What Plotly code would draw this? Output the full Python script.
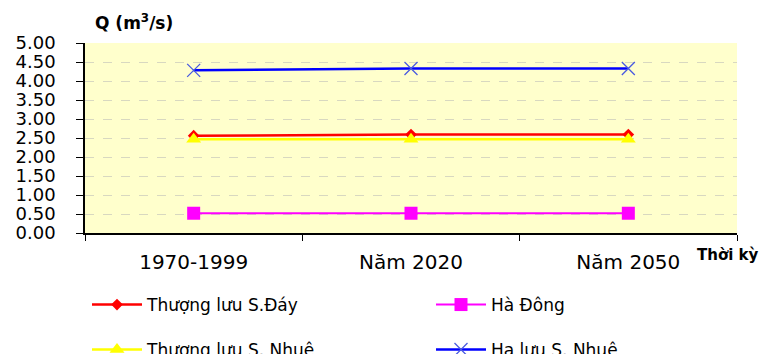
import plotly.graph_objects as go

periods = ["1970-1999", "Năm 2020", "Năm 2050"]
thuong_luu_day = [2.56, 2.59, 2.59]
ha_dong = [0.52, 0.52, 0.52]
thuong_luu_nhue = [2.47, 2.47, 2.47]
ha_luu_nhue = [4.28, 4.33, 4.33]
y_ticks = [0, 0.5, 1, 1.5, 2, 2.5, 3, 3.5, 4, 4.5, 5]

FONT = "DejaVu Sans, Verdana, sans-serif"

fig = go.Figure()
fig.add_trace(go.Scatter(
    x=periods, y=thuong_luu_day, name="Thượng lưu S.Đáy", mode="lines+markers",
    line=dict(color="#FF0000", width=2.5),
    marker=dict(symbol="diamond", size=9, color="#FF0000"), legend="legend"))
fig.add_trace(go.Scatter(
    x=periods, y=ha_dong, name="Hà Đông", mode="lines+markers",
    line=dict(color="#FF00FF", width=2),
    marker=dict(symbol="square", size=13, color="#FF00FF"), legend="legend2"))
fig.add_trace(go.Scatter(
    x=periods, y=thuong_luu_nhue, name="Thượng lưu S. Nhuê", mode="lines+markers",
    line=dict(color="#FFFF00", width=2.5),
    marker=dict(symbol="triangle-up", size=13, color="#FFFF00"), legend="legend3"))
fig.add_trace(go.Scatter(
    x=periods, y=ha_luu_nhue, name="Hạ lưu S. Nhuê", mode="lines+markers",
    line=dict(color="#0000FF", width=2.5),
    marker=dict(symbol="x-thin-open", size=13, color="#4A5BE0",
                line=dict(width=1.3, color="#4A5BE0")), legend="legend4"))
fig.update_traces(showlegend=True)

legend_common = dict(
    orientation="h", xanchor="left", yanchor="middle",
    xref="container", yref="container",
    font=dict(family=FONT, size=17, color="#000000"),
    bgcolor="rgba(0,0,0,0)", itemwidth=50,
)

W, H = 777, 354
col_x = [87 / W, 431 / W]
row_y = [1 - 305 / H, 1 - 350 / H]

fig.update_layout(
    width=W, height=H,
    showlegend=True,
    margin=dict(l=85, r=40, t=43, b=121, autoexpand=False),
    paper_bgcolor="#FFFFFF",
    plot_bgcolor="#FFFFCC",
    font=dict(family=FONT, color="#000000"),
    legend=dict(x=col_x[0], y=row_y[0], **legend_common),
    legend2=dict(x=col_x[1], y=row_y[0], **legend_common),
    legend3=dict(x=col_x[0], y=row_y[1], **legend_common),
    legend4=dict(x=col_x[1], y=row_y[1], **legend_common),
    xaxis=dict(
        type="category", showgrid=False, showline=True, linecolor="#000000",
        linewidth=1.5, ticks="outside", tickson="boundaries", ticklen=6,
        tickcolor="#000000", ticklabelstandoff=10,
        tickfont=dict(family=FONT, size=20, color="#000000"),
        range=[-0.5, 2.5],
    ),
    yaxis=dict(
        range=[0, 5], tickvals=y_ticks, tickformat=".2f",
        showgrid=True, gridcolor="#D8D8C0", griddash="dash", gridwidth=1,
        showline=True, linecolor="#000000", linewidth=1.5,
        ticks="outside", ticklen=7, tickcolor="#000000", ticklabelstandoff=17,
        tickfont=dict(family=FONT, size=18, color="#000000"),
        zeroline=False,
    ),
    annotations=[
        dict(text="<b>Q (m<sup>3</sup>/s)</b>", xref="paper", yref="paper",
             x=0.013, y=1.04, xanchor="left", yanchor="bottom", showarrow=False,
             font=dict(family=FONT, size=17, color="#000000")),
        dict(text="<b>Thời kỳ</b>", xref="paper", yref="paper",
             x=0.935, y=-0.06, xanchor="left", yanchor="top", showarrow=False,
             font=dict(family=FONT, size=15, color="#000000")),
    ],
)

fig.write_html("out.html")
